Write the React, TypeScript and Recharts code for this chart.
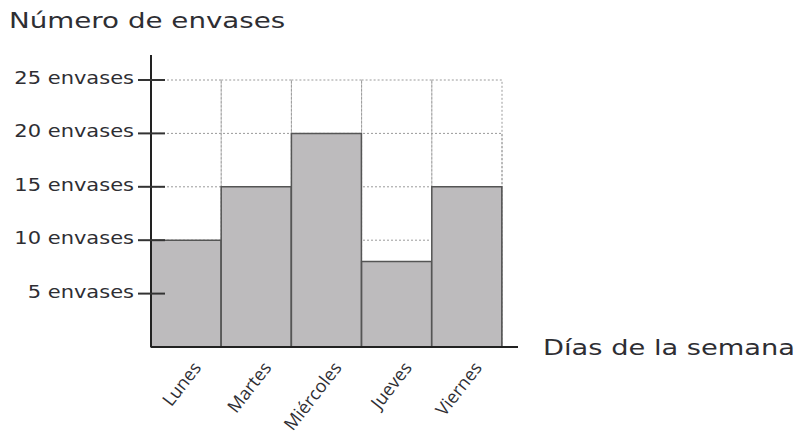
import { BarChart, Bar, XAxis, YAxis, ReferenceArea } from "recharts";

const DAYS = ["Lunes", "Martes", "Miércoles", "Jueves", "Viernes"];
const ENVASES = [10, 15, 20, 8, 15];
const Y_TICKS = [5, 10, 15, 20, 25];
const H_GRID = [10, 15, 20];

const TEXT = "#2e2e33";
const SANS = "'DejaVu Sans', Verdana, sans-serif";

const data = DAYS.map((day, i) => ({ day, envases: ENVASES[i] }));

// labels in the original look horizontally stretched, so scale them a bit
function YTick(props: any) {
  const { x, y, payload } = props;
  return (
    <g>
      <line x1={x - 13} x2={x + 14} y1={y} y2={y} stroke="#333" strokeWidth={2} />
      <text
        transform={`translate(${x - 17},${y + 4}) scale(1.2,1)`}
        textAnchor="end"
        fontFamily={SANS}
        fontSize={17.5}
        fill={TEXT}
      >
        {`${payload.value} envases`}
      </text>
    </g>
  );
}

function XTick(props: any) {
  const { x, y, payload } = props;
  return (
    <g transform={`translate(${x + 16},${y + 19})`}>
      <text
        textAnchor="end"
        transform="rotate(-52)"
        fontFamily="'Open Sans', 'Noto Sans', sans-serif"
        fontSize={18}
        fill={TEXT}
      >
        {payload.value}
      </text>
    </g>
  );
}

export default function App() {
  return (
    <div style={{ position: "absolute", left: 0, top: 0, width: 799, height: 437, background: "#fff" }}>
      <BarChart
        width={799}
        height={437}
        data={data}
        margin={{ top: 55, right: 281, bottom: 0, left: 0 }}
        barCategoryGap={0}
      >
        <XAxis
          dataKey="day"
          height={90}
          padding={{ left: 0, right: 16 }}
          axisLine={{ stroke: "#222", strokeWidth: 2 }}
          tickLine={false}
          tickSize={0}
          tick={<XTick />}
          interval={0}
        />
        <YAxis
          width={151}
          domain={[0, 25]}
          ticks={Y_TICKS}
          padding={{ top: 25, bottom: 0 }}
          axisLine={{ stroke: "#222", strokeWidth: 2 }}
          tickLine={false}
          tickSize={0}
          tickMargin={0}
          tick={<YTick />}
        />
        {DAYS.map((d) => (
          <ReferenceArea
            key={`col-${d}`}
            x1={d}
            x2={d}
            y1={0}
            y2={25}
            fill="none"
            stroke="#9a9a9a"
            strokeDasharray="2 2"
            strokeWidth={1}
          />
        ))}
        {H_GRID.map((v) => (
          <ReferenceArea
            key={`row-${v}`}
            x1={DAYS[0]}
            x2={DAYS[DAYS.length - 1]}
            y1={0}
            y2={v}
            fill="none"
            stroke="#9a9a9a"
            strokeDasharray="2 2"
            strokeWidth={1}
          />
        ))}
        <Bar
          dataKey="envases"
          fill="#bdbbbd"
          stroke="#555"
          strokeWidth={1.5}
          isAnimationActive={false}
        />
      </BarChart>
      <svg
        width={799}
        height={437}
        style={{ position: "absolute", left: 0, top: 0, pointerEvents: "none" }}
      >
        <text transform="translate(9,28) scale(1.26,1)" fontFamily={SANS} fontSize={22} fill={TEXT}>
          Número de envases
        </text>
        <text transform="translate(543,355) scale(1.24,1)" fontFamily={SANS} fontSize={22} fill={TEXT}>
          Días de la semana
        </text>
      </svg>
    </div>
  );
}
